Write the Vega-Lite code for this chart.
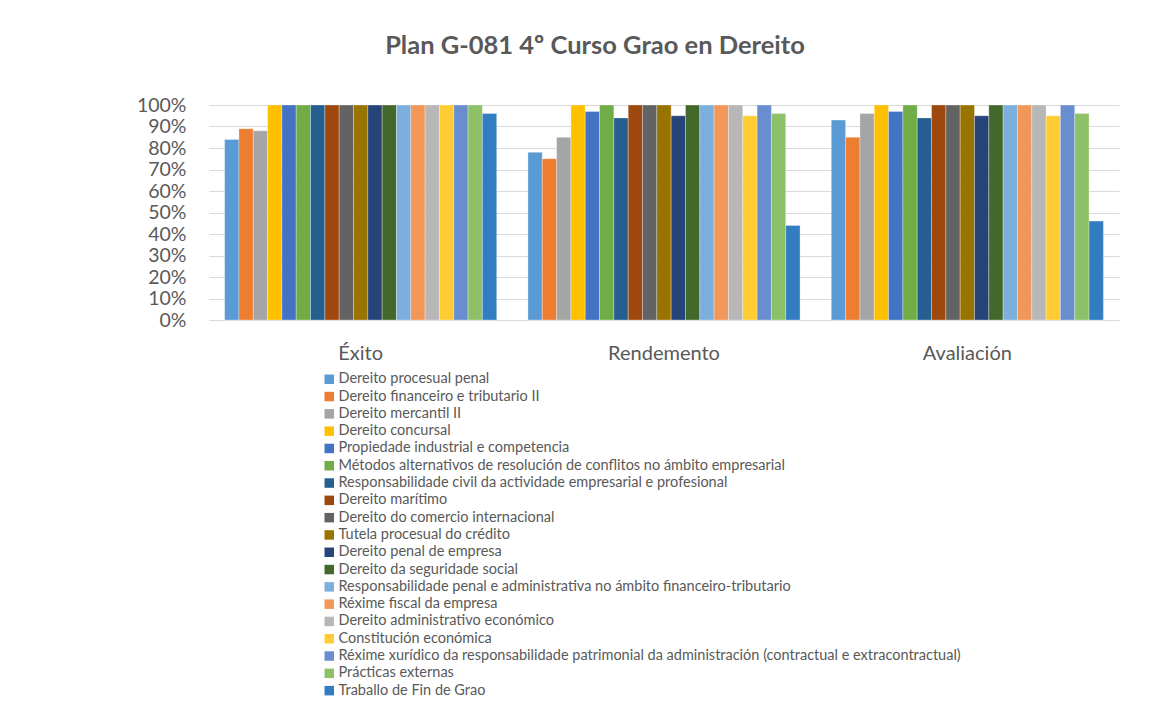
{
  "$schema": "https://vega.github.io/schema/vega-lite/v6.json",
  "width": 910,
  "height": 215,
  "autosize": {"type": "none"},
  "padding": {"left": 209, "top": 105, "right": 52, "bottom": 392},
  "background": "white",
  "title": {
    "text": "Plan G-081 4º Curso Grao en Dereito",
    "anchor": "middle",
    "dx": -69,
    "offset": 36,
    "font": "Lato",
    "fontSize": 25.5,
    "fontWeight": "bold",
    "color": "#595959"
  },
  "data": {
    "values": [
      {"g": "Éxito", "m": "Dereito procesual penal", "v": 0.84},
      {"g": "Éxito", "m": "Dereito financeiro e tributario II", "v": 0.89},
      {"g": "Éxito", "m": "Dereito mercantil II", "v": 0.88},
      {"g": "Éxito", "m": "Dereito concursal", "v": 1.0},
      {"g": "Éxito", "m": "Propiedade industrial e competencia", "v": 1.0},
      {"g": "Éxito", "m": "Métodos alternativos de resolución de conflitos no ámbito empresarial", "v": 1.0},
      {"g": "Éxito", "m": "Responsabilidade civil da actividade empresarial e profesional", "v": 1.0},
      {"g": "Éxito", "m": "Dereito marítimo", "v": 1.0},
      {"g": "Éxito", "m": "Dereito do comercio internacional", "v": 1.0},
      {"g": "Éxito", "m": "Tutela procesual do crédito", "v": 1.0},
      {"g": "Éxito", "m": "Dereito penal de empresa", "v": 1.0},
      {"g": "Éxito", "m": "Dereito da seguridade social", "v": 1.0},
      {"g": "Éxito", "m": "Responsabilidade penal e administrativa no ámbito financeiro-tributario", "v": 1.0},
      {"g": "Éxito", "m": "Réxime fiscal da empresa", "v": 1.0},
      {"g": "Éxito", "m": "Dereito administrativo económico", "v": 1.0},
      {"g": "Éxito", "m": "Constitución económica", "v": 1.0},
      {"g": "Éxito", "m": "Réxime xurídico da responsabilidade patrimonial da administración (contractual e extracontractual)", "v": 1.0},
      {"g": "Éxito", "m": "Prácticas externas", "v": 1.0},
      {"g": "Éxito", "m": "Traballo de Fin de Grao", "v": 0.96},
      {"g": "Rendemento", "m": "Dereito procesual penal", "v": 0.78},
      {"g": "Rendemento", "m": "Dereito financeiro e tributario II", "v": 0.75},
      {"g": "Rendemento", "m": "Dereito mercantil II", "v": 0.85},
      {"g": "Rendemento", "m": "Dereito concursal", "v": 1.0},
      {"g": "Rendemento", "m": "Propiedade industrial e competencia", "v": 0.97},
      {"g": "Rendemento", "m": "Métodos alternativos de resolución de conflitos no ámbito empresarial", "v": 1.0},
      {"g": "Rendemento", "m": "Responsabilidade civil da actividade empresarial e profesional", "v": 0.94},
      {"g": "Rendemento", "m": "Dereito marítimo", "v": 1.0},
      {"g": "Rendemento", "m": "Dereito do comercio internacional", "v": 1.0},
      {"g": "Rendemento", "m": "Tutela procesual do crédito", "v": 1.0},
      {"g": "Rendemento", "m": "Dereito penal de empresa", "v": 0.95},
      {"g": "Rendemento", "m": "Dereito da seguridade social", "v": 1.0},
      {"g": "Rendemento", "m": "Responsabilidade penal e administrativa no ámbito financeiro-tributario", "v": 1.0},
      {"g": "Rendemento", "m": "Réxime fiscal da empresa", "v": 1.0},
      {"g": "Rendemento", "m": "Dereito administrativo económico", "v": 1.0},
      {"g": "Rendemento", "m": "Constitución económica", "v": 0.95},
      {"g": "Rendemento", "m": "Réxime xurídico da responsabilidade patrimonial da administración (contractual e extracontractual)", "v": 1.0},
      {"g": "Rendemento", "m": "Prácticas externas", "v": 0.96},
      {"g": "Rendemento", "m": "Traballo de Fin de Grao", "v": 0.44},
      {"g": "Avaliación", "m": "Dereito procesual penal", "v": 0.93},
      {"g": "Avaliación", "m": "Dereito financeiro e tributario II", "v": 0.85},
      {"g": "Avaliación", "m": "Dereito mercantil II", "v": 0.96},
      {"g": "Avaliación", "m": "Dereito concursal", "v": 1.0},
      {"g": "Avaliación", "m": "Propiedade industrial e competencia", "v": 0.97},
      {"g": "Avaliación", "m": "Métodos alternativos de resolución de conflitos no ámbito empresarial", "v": 1.0},
      {"g": "Avaliación", "m": "Responsabilidade civil da actividade empresarial e profesional", "v": 0.94},
      {"g": "Avaliación", "m": "Dereito marítimo", "v": 1.0},
      {"g": "Avaliación", "m": "Dereito do comercio internacional", "v": 1.0},
      {"g": "Avaliación", "m": "Tutela procesual do crédito", "v": 1.0},
      {"g": "Avaliación", "m": "Dereito penal de empresa", "v": 0.95},
      {"g": "Avaliación", "m": "Dereito da seguridade social", "v": 1.0},
      {"g": "Avaliación", "m": "Responsabilidade penal e administrativa no ámbito financeiro-tributario", "v": 1.0},
      {"g": "Avaliación", "m": "Réxime fiscal da empresa", "v": 1.0},
      {"g": "Avaliación", "m": "Dereito administrativo económico", "v": 1.0},
      {"g": "Avaliación", "m": "Constitución económica", "v": 0.95},
      {"g": "Avaliación", "m": "Réxime xurídico da responsabilidade patrimonial da administración (contractual e extracontractual)", "v": 1.0},
      {"g": "Avaliación", "m": "Prácticas externas", "v": 0.96},
      {"g": "Avaliación", "m": "Traballo de Fin de Grao", "v": 0.46}
    ]
  },
  "mark": {"type": "bar", "stroke": "#ffffff", "strokeWidth": 0.6, "strokeOpacity": 0.5},
  "encoding": {
    "x": {
      "field": "g",
      "type": "nominal",
      "sort": null,
      "title": null,
      "scale": {"paddingInner": 0.103, "paddingOuter": 0.0515},
      "axis": {
        "labelAngle": 0,
        "labelFont": "Lato",
        "labelFontSize": 20,
        "labelColor": "#595959",
        "labelPadding": 23,
        "ticks": false,
        "domain": false,
        "grid": false
      }
    },
    "xOffset": {"field": "m", "type": "nominal", "sort": null},
    "y": {
      "field": "v",
      "type": "quantitative",
      "title": null,
      "scale": {"domain": [0, 1], "nice": false},
      "axis": {
        "values": [0, 0.1, 0.2, 0.3, 0.4, 0.5, 0.6, 0.7, 0.8, 0.9, 1.0],
        "format": ".0%",
        "labelFont": "Lato",
        "labelFontSize": 19.5,
        "labelColor": "#595959",
        "labelPadding": 23,
        "ticks": false,
        "domain": false,
        "grid": true,
        "gridColor": "#D9D9D9",
        "gridWidth": 1.2
      }
    },
    "color": {
      "field": "m",
      "type": "nominal",
      "title": null,
      "scale": {
        "domain": [
          "Dereito procesual penal",
          "Dereito financeiro e tributario II",
          "Dereito mercantil II",
          "Dereito concursal",
          "Propiedade industrial e competencia",
          "Métodos alternativos de resolución de conflitos no ámbito empresarial",
          "Responsabilidade civil da actividade empresarial e profesional",
          "Dereito marítimo",
          "Dereito do comercio internacional",
          "Tutela procesual do crédito",
          "Dereito penal de empresa",
          "Dereito da seguridade social",
          "Responsabilidade penal e administrativa no ámbito financeiro-tributario",
          "Réxime fiscal da empresa",
          "Dereito administrativo económico",
          "Constitución económica",
          "Réxime xurídico da responsabilidade patrimonial da administración (contractual e extracontractual)",
          "Prácticas externas",
          "Traballo de Fin de Grao"
        ],
        "range": [
          "#5B9BD5", "#ED7D31", "#A5A5A5", "#FFC000", "#4472C4", "#70AD47",
          "#255E91", "#9E480E", "#636363", "#997300", "#264478", "#43682B",
          "#7CAFDD", "#F1975A", "#B7B7B7", "#FFCD33", "#698ED0", "#8CC168", "#327DC2"
        ]
      },
      "legend": {
        "orient": "none",
        "legendX": 113,
        "legendY": 267,
        "padding": 0,
        "symbolType": "square",
        "symbolSize": 90,
        "symbolStrokeWidth": 0,
        "labelFont": "Lato",
        "labelFontSize": 14.5,
        "labelColor": "#595959",
        "labelOffset": 2,
        "labelLimit": 900,
        "rowPadding": 2.3
      }
    }
  },
  "config": {
    "view": {"stroke": null}
  }
}
